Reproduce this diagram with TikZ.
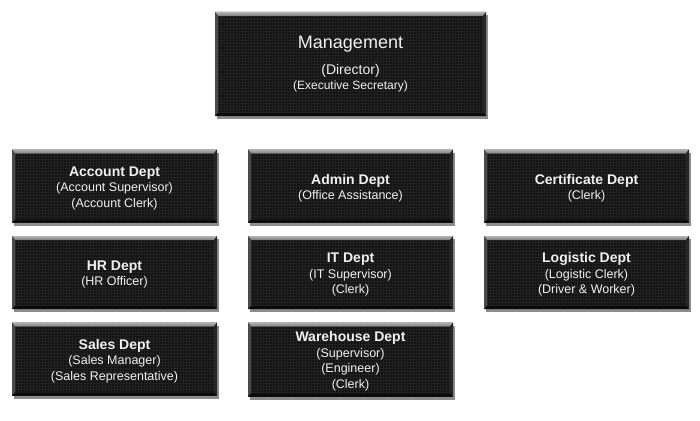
\documentclass[tikz,border=0pt]{standalone}
\usepackage{fontspec}
\setmainfont{Liberation Sans}
\usetikzlibrary{shadows}
\definecolor{boxfill}{HTML}{121212}
\definecolor{gridc}{HTML}{222222}
\definecolor{bevtop}{HTML}{B4B4B4}
\definecolor{bevtopb}{HTML}{7A7A7A}
\definecolor{bevleft}{HTML}{4A4A4A}
\definecolor{bevright}{HTML}{262626}
\definecolor{bevbot}{HTML}{0A0A0A}
\definecolor{txtc}{HTML}{F0F0F0}
\tikzset{
  deptbox/.style={rectangle, inner sep=0pt, fill=boxfill,
    drop shadow={opacity=0.45, shadow xshift=1.5pt, shadow yshift=-3pt, fill=black},
    path picture={
      \coordinate (pnw) at (path picture bounding box.north west);
      \coordinate (pne) at (path picture bounding box.north east);
      \coordinate (psw) at (path picture bounding box.south west);
      \coordinate (pse) at (path picture bounding box.south east);
      \draw[gridc, line width=0.6pt, step=3pt] (psw) grid (pne);
      \fill[top color=bevtop, bottom color=bevtopb] (pnw) -- (pne) -- ([xshift=-3pt,yshift=-4pt]pne) -- ([xshift=3pt,yshift=-4pt]pnw) -- cycle;
      \fill[bevleft] (pnw) -- ([xshift=3pt,yshift=-4pt]pnw) -- ([xshift=3pt,yshift=3pt]psw) -- (psw) -- cycle;
      \fill[bevright] (pne) -- ([xshift=-3pt,yshift=-4pt]pne) -- ([xshift=-3pt,yshift=3pt]pse) -- (pse) -- cycle;
      \fill[bevbot] (psw) -- ([xshift=3pt,yshift=3pt]psw) -- ([xshift=-3pt,yshift=3pt]pse) -- (pse) -- cycle;
    }},
  dept/.style={deptbox, minimum width=205pt, minimum height=73pt},
  boxtext/.style={inner sep=0pt, text=txtc, align=center, font=\fontsize{12.5}{15.5}\selectfont},
}
\newcommand\ttl[1]{{\fontsize{14}{16}\selectfont\bfseries #1}}
\begin{document}
\begin{tikzpicture}[x=1pt,y=-1pt]
\useasboundingbox (0,0) rectangle (700,420);
\fill[white] (0,0) rectangle (700,420);
\node[deptbox, minimum width=271pt, minimum height=104pt] (mgmt) at (350.5,64) {};
\node[boxtext] (mgmt-t) at ([yshift=-0.5pt]mgmt.center) {{\fontsize{18}{20}\selectfont Management}\\[10pt]{\fontsize{14}{16.5}\selectfont (Director)}\\{\fontsize{12}{16.5}\selectfont (Executive Secretary)}};
\node[dept] (acc) at (114.5,186) {};
\node[dept] (adm) at (350.5,186) {};
\node[dept] (cert) at (586.5,186) {};
\node[dept] (hr) at (114.5,272.5) {};
\node[dept] (it) at (350.5,272.5) {};
\node[dept] (log) at (586.5,272.5) {};
\node[dept] (sales) at (114.5,359) {};
\node[dept, minimum height=74pt] (wh) at (350.5,359.5) {};
\node[boxtext] (acc-t) at ([yshift=-2pt]acc.center) {\ttl{Account Dept}\\(Account Supervisor)\\(Account Clerk)};
\node[boxtext] (adm-t) at ([yshift=-2pt]adm.center) {\ttl{Admin Dept}\\(Office Assistance)};
\node[boxtext] (cert-t) at ([yshift=-2pt]cert.center) {\ttl{Certificate Dept}\\(Clerk)};
\node[boxtext] (hr-t) at ([yshift=-2pt]hr.center) {\ttl{HR Dept}\\(HR Officer)};
\node[boxtext] (it-t) at ([yshift=-2pt]it.center) {\ttl{IT Dept}\\(IT Supervisor)\\(Clerk)};
\node[boxtext] (log-t) at ([yshift=-2pt]log.center) {\ttl{Logistic Dept}\\(Logistic Clerk)\\(Driver \& Worker)};
\node[boxtext] (sales-t) at ([yshift=-2pt]sales.center) {\ttl{Sales Dept}\\(Sales Manager)\\(Sales Representative)};
\node[boxtext] (wh-t) at ([yshift=-1.5pt]wh.center) {\ttl{Warehouse Dept}\\(Supervisor)\\(Engineer)\\(Clerk)};
\end{tikzpicture}
\end{document}
